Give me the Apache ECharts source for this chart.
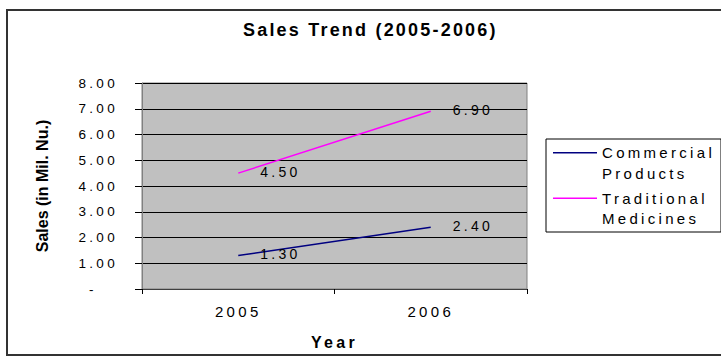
<!DOCTYPE html>
<html><head><meta charset="utf-8">
<script src="https://cdn.jsdelivr.net/npm/echarts@6/dist/echarts.min.js"></script>
<style>
html,body{margin:0;padding:0;background:#fff;overflow:hidden;}
#chart{width:721px;height:364px;}
#chart text[style*="Arial"]{letter-spacing:3.3px;}
#chart text[style*="Helvetica"]{letter-spacing:2.2px;}
</style></head><body><div id="chart"></div>
<script>
const titleText = 'Sales Trend (2005-2006)';
const years = ['2005', '2006'];
const seriesNames = ['Commercial Products', 'Traditional Medicines'];
const seriesColors = ['#000080', '#ff00ff'];
const commercialProducts = [1.30, 2.40];
const traditionalMedicines = [4.50, 6.90];
const yMin = 0, yMax = 8, yStep = 1;
const xAxisTitle = 'Year';
const yAxisTitle = 'Sales (in Mil. Nu.)';

const FONT = 'Arial, sans-serif';
const chart = echarts.init(document.getElementById('chart'), null, {renderer: 'svg'});
const legendIcon = 'path://M0,0 L0.01,0 L0.01,0.01 Z M0,9.5 L44,9.5 L44,11 L0,11 Z M43.99,41 L44,41 L44,40.99 Z';

const makeSeries = (name, data, color) => ({
  name: name, type: 'line', data: data, symbol: 'circle', symbolSize: 0, showSymbol: true,
  lineStyle: {color: color, width: 1.5}, itemStyle: {color: color},
  label: {show: true, position: 'right', distance: 22, offset: [0, -1.5],
    formatter: p => Number(p.value).toFixed(2), color: '#000', fontSize: 14, fontFamily: FONT},
  emphasis: {disabled: true}, animation: false
});

chart.setOption({
  backgroundColor: '#fff',
  animation: false,
  title: {text: titleText, left: 243, top: 21, padding: 0,
    textStyle: {fontSize: 18, fontWeight: 'bold', color: '#000', fontFamily: 'Arial, Helvetica'}},
  graphic: [{type: 'rect', shape: {x: 7, y: 10, width: 800, height: 345}, silent: true, z: -10,
    style: {fill: 'none', stroke: '#333', lineWidth: 2}}],
  legend: {orient: 'vertical', left: 546, top: 139, padding: [3.5, 39, 3, 7], itemGap: 4.5,
    itemWidth: 44, itemHeight: 41, icon: legendIcon, itemStyle: {borderWidth: 0},
    backgroundColor: '#fff', borderColor: '#000', borderWidth: 1, borderRadius: 0,
    data: seriesNames, formatter: n => n.replace(' ', '\n'),
    textStyle: {fontSize: 15, lineHeight: 20.5, color: '#000', fontFamily: FONT}},
  grid: {left: 142, top: 83, right: 194, bottom: 75, show: true, backgroundColor: '#c0c0c0',
    borderColor: '#808080', borderWidth: 1, containLabel: false},
  xAxis: {type: 'category', data: years, boundaryGap: true,
    name: xAxisTitle, nameLocation: 'middle', nameGap: 45,
    nameTextStyle: {fontSize: 16, fontWeight: 'bold', color: '#000', fontFamily: FONT},
    axisLine: {show: true, lineStyle: {color: '#404040', width: 1}},
    axisTick: {show: true, length: 5, lineStyle: {color: '#000'}},
    axisLabel: {fontSize: 15, color: '#000', margin: 15, fontFamily: FONT},
    splitLine: {show: false}},
  yAxis: {type: 'value', min: yMin, max: yMax, interval: yStep,
    name: yAxisTitle, nameLocation: 'middle', nameGap: 92, nameRotate: 90,
    nameTextStyle: {fontSize: 16, fontWeight: 'bold', color: '#000', fontFamily: '"Liberation Sans", sans-serif'},
    axisLine: {show: true, lineStyle: {color: '#808080', width: 1}},
    axisTick: {show: true, length: 7, lineStyle: {color: '#000'}},
    axisLabel: {fontSize: 13.5, color: '#000', margin: 24, fontFamily: FONT,
      formatter: v => v === 0 ? '-\u00a0\u00a0\u00a0' : v.toFixed(2)},
    splitLine: {show: true, lineStyle: {color: '#000', width: 1}}},
  series: [
    makeSeries(seriesNames[0], commercialProducts, seriesColors[0]),
    makeSeries(seriesNames[1], traditionalMedicines, seriesColors[1])
  ]
});
</script></body></html>
